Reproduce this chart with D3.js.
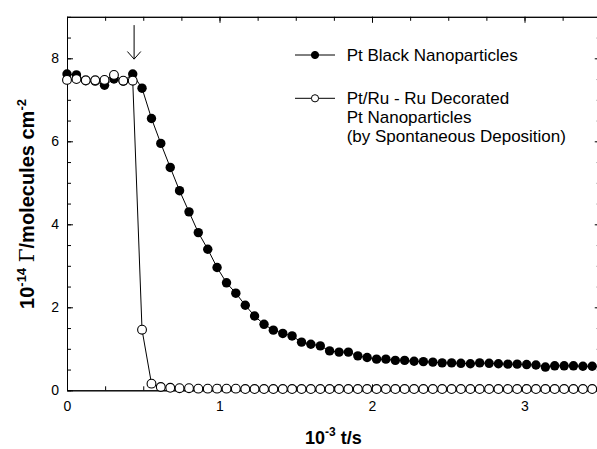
<!DOCTYPE html>
<html>
<head>
<meta charset="utf-8">
<script src="https://cdn.jsdelivr.net/npm/d3@7"></script>
<style>
  body { margin: 0; background: #fff; }
  text { font-family: "Liberation Sans", Arial, sans-serif; }
</style>
</head>
<body>
<div id="chart-container"></div>
<script>
// sample times (10^-3 t/s)
const times = [0, 0.062, 0.123, 0.185, 0.246, 0.308, 0.369, 0.431, 0.492, 0.554,
    0.615, 0.677, 0.738, 0.800, 0.861, 0.923, 0.984, 1.046, 1.107, 1.169,
    1.230, 1.292, 1.353, 1.415, 1.476, 1.538, 1.599, 1.661, 1.722, 1.784,
    1.845, 1.907, 1.968, 2.030, 2.091, 2.153, 2.214, 2.276, 2.337, 2.399,
    2.460, 2.522, 2.583, 2.645, 2.706, 2.768, 2.829, 2.891, 2.952, 3.014,
    3.075, 3.137, 3.198, 3.260, 3.321, 3.383, 3.444];

// Pt Black Nanoparticles
const ptBlack = [7.62, 7.60, 7.46, 7.45, 7.35, 7.50, 7.45, 7.62, 7.28, 6.55,
    5.95, 5.37, 4.81, 4.30, 3.80, 3.40, 2.96, 2.59, 2.34, 2.05,
    1.79, 1.59, 1.45, 1.37, 1.31, 1.16, 1.11, 1.07, 0.95, 0.92,
    0.92, 0.83, 0.79, 0.75, 0.75, 0.72, 0.72, 0.70, 0.69, 0.68,
    0.66, 0.66, 0.65, 0.64, 0.66, 0.65, 0.64, 0.63, 0.63, 0.62,
    0.61, 0.56, 0.59, 0.59, 0.59, 0.58, 0.58];

// Pt/Ru - Ru decorated Pt nanoparticles
const ptRu = [7.48, 7.50, 7.47, 7.47, 7.48, 7.60, 7.46, 7.46, 1.46, 0.16,
    0.08, 0.06, 0.05, 0.05, 0.04, 0.04, 0.04, 0.04, 0.04, 0.03,
    0.03, 0.03, 0.03, 0.03, 0.03, 0.03, 0.03, 0.03, 0.03, 0.03,
    0.03, 0.03, 0.03, 0.03, 0.03, 0.03, 0.03, 0.03, 0.03, 0.03,
    0.03, 0.03, 0.03, 0.03, 0.03, 0.03, 0.03, 0.03, 0.03, 0.03,
    0.03, 0.03, 0.03, 0.03, 0.03, 0.03, 0.03];

const xTickLabels = [0, 1, 2, 3];
const yTickLabels = [0, 2, 4, 6, 8];
const legendLabels = [["Pt Black Nanoparticles"],
    ["Pt/Ru - Ru Decorated", "Pt Nanoparticles", "(by Spontaneous Deposition)"]];

// arrow marking the switch (t, from y, to y)
const arrow = { t: 0.44, y0: 8.8, y1: 7.98 };

const svgWidth = 597,
    svgHeight = 449,
    margin = { top: 16.8, right: -3.75, bottom: 58.7, left: 67 },
    width = svgWidth - margin.left - margin.right,
    height = svgHeight - margin.top - margin.bottom;

var svg = d3.select("#chart-container").append("svg")
    .attr("width", svgWidth)
    .attr("height", svgHeight)
    .style("display", "block")
    .append("g")
    .attr("transform", "translate(" + margin.left + "," + margin.top + ")");

let xScale = d3.scaleLinear().domain([0, 3.5]).range([0, width]),
    yScale = d3.scaleLinear().domain([0, 9]).range([height, 0]);

const xMinor = d3.range(0, 3.5001, 0.25),
    yMinor = d3.range(0, 9.0001, 0.5);

// frame + inward ticks on all four sides
function axisStyle(g) {
    g.select(".domain").attr("stroke", "#000").attr("stroke-width", 1);
    g.selectAll(".tick line").attr("stroke", "#000");
    g.selectAll(".tick text").attr("fill", "#000").style("font-size", "14px")
        .style("font-family", "'Liberation Sans', Arial, sans-serif");
}

// bottom
svg.append("g").attr("transform", "translate(0," + height + ")")
    .call(d3.axisTop(xScale).tickValues(xMinor).tickSize(4).tickFormat("").tickSizeOuter(0))
    .call(axisStyle);
svg.append("g").attr("transform", "translate(0," + height + ")")
    .call(d3.axisTop(xScale).tickValues(xTickLabels).tickSize(6).tickFormat("").tickSizeOuter(0))
    .call(axisStyle);
svg.append("g").attr("transform", "translate(0," + height + ")")
    .call(d3.axisBottom(xScale).tickValues(xTickLabels).tickSize(0).tickPadding(11)
        .tickFormat(d3.format("d")).tickSizeOuter(0))
    .call(axisStyle)
    .call((g) => g.select(".domain").remove());
// top
svg.append("g")
    .call(d3.axisBottom(xScale).tickValues(xMinor).tickSize(4).tickFormat("").tickSizeOuter(0))
    .call(axisStyle);
svg.append("g")
    .call(d3.axisBottom(xScale).tickValues(xTickLabels).tickSize(6).tickFormat("").tickSizeOuter(0))
    .call(axisStyle);
// left
svg.append("g")
    .call(d3.axisRight(yScale).tickValues(yMinor).tickSize(4).tickFormat("").tickSizeOuter(0))
    .call(axisStyle);
svg.append("g")
    .call(d3.axisRight(yScale).tickValues(yTickLabels).tickSize(6).tickFormat("").tickSizeOuter(0))
    .call(axisStyle);
svg.append("g")
    .call(d3.axisLeft(yScale).tickValues(yTickLabels).tickSize(0).tickPadding(8)
        .tickFormat(d3.format("d")).tickSizeOuter(0))
    .call(axisStyle)
    .call((g) => g.select(".domain").remove());
// right
svg.append("g").attr("transform", "translate(" + width + ",0)")
    .call(d3.axisLeft(yScale).tickValues(yMinor).tickSize(4).tickFormat("").tickSizeOuter(0))
    .call(axisStyle);
svg.append("g").attr("transform", "translate(" + width + ",0)")
    .call(d3.axisLeft(yScale).tickValues(yTickLabels).tickSize(6).tickFormat("").tickSizeOuter(0))
    .call(axisStyle);

// series
const line = d3.line().x((d) => xScale(d.t)).y((d) => yScale(d.v));
const blackData = times.map((t, i) => ({ t: t, v: ptBlack[i] })),
    ruData = times.map((t, i) => ({ t: t, v: ptRu[i] }));

svg.append("path").datum(blackData)
    .attr("d", line).attr("fill", "none").attr("stroke", "#000").attr("stroke-width", 1);
svg.append("g").selectAll("circle")
    .data(blackData)
    .join("circle")
    .attr("cx", (d) => xScale(d.t))
    .attr("cy", (d) => yScale(d.v))
    .attr("r", 4.7)
    .attr("fill", "#000");

svg.append("path").datum(ruData)
    .attr("d", line).attr("fill", "none").attr("stroke", "#000").attr("stroke-width", 1);
svg.append("g").selectAll("circle")
    .data(ruData)
    .join("circle")
    .attr("cx", (d) => xScale(d.t))
    .attr("cy", (d) => yScale(d.v))
    .attr("r", 4.4)
    .attr("fill", "#fff")
    .attr("stroke", "#000")
    .attr("stroke-width", 1.1);

// arrow
const ax = xScale(arrow.t);
svg.append("line")
    .attr("x1", ax).attr("x2", ax)
    .attr("y1", yScale(arrow.y0)).attr("y2", yScale(arrow.y1))
    .attr("stroke", "#000");
svg.append("path")
    .attr("d", "M" + (ax - 6.7) + "," + (yScale(arrow.y1) - 7.6) + "L" + ax + "," + yScale(arrow.y1)
        + "L" + (ax + 6.7) + "," + (yScale(arrow.y1) - 7.6))
    .attr("fill", "none").attr("stroke", "#000");

// legend
const legend = svg.append("g").attr("transform", "translate(" + (295 - margin.left) + ",0)");
const legendY = [55 - margin.top, 98.3 - margin.top];
legendLabels.forEach((lines, i) => {
    let g = legend.append("g").attr("transform", "translate(0," + legendY[i] + ")");
    g.append("line").attr("x1", 0).attr("x2", 40).attr("stroke", "#000");
    g.append("circle").attr("cx", 20).attr("r", 3.6)
        .attr("fill", i == 0 ? "#000" : "#fff").attr("stroke", "#000");
    lines.forEach((s, j) => {
        g.append("text")
            .attr("x", 51.7)
            .attr("y", j * 19.2 + 5.8)
            .style("font-size", "17px")
            .text(s);
    });
});

// axis titles
svg.append("text")
    .attr("x", width / 2 - 0.5)
    .attr("y", 444.5 - margin.top)
    .attr("text-anchor", "middle")
    .style("font-size", "18px")
    .style("font-weight", "bold")
    .call((t) => {
        t.append("tspan").text("10");
        t.append("tspan").attr("dy", -8).style("font-size", "12px").text("-3");
        t.append("tspan").attr("dy", 8).text(" t/s");
    });

svg.append("text")
    .attr("transform", "translate(" + (34 - margin.left) + "," + (204 - margin.top) + ") rotate(-90)")
    .attr("text-anchor", "middle")
    .style("font-size", "20px")
    .style("font-weight", "bold")
    .call((t) => {
        t.append("tspan").text("10");
        t.append("tspan").attr("dy", -8).style("font-size", "13px").text("-14");
        t.append("tspan").attr("dy", 8).text(" ");
        t.append("tspan").style("font-family", "'DejaVu Serif', 'Liberation Serif', serif")
            .style("font-weight", "normal").text("\u0393");
        t.append("tspan").text("/molecules cm");
        t.append("tspan").attr("dy", -8).style("font-size", "13px").text("-2");
    });
</script>
</body>
</html>
